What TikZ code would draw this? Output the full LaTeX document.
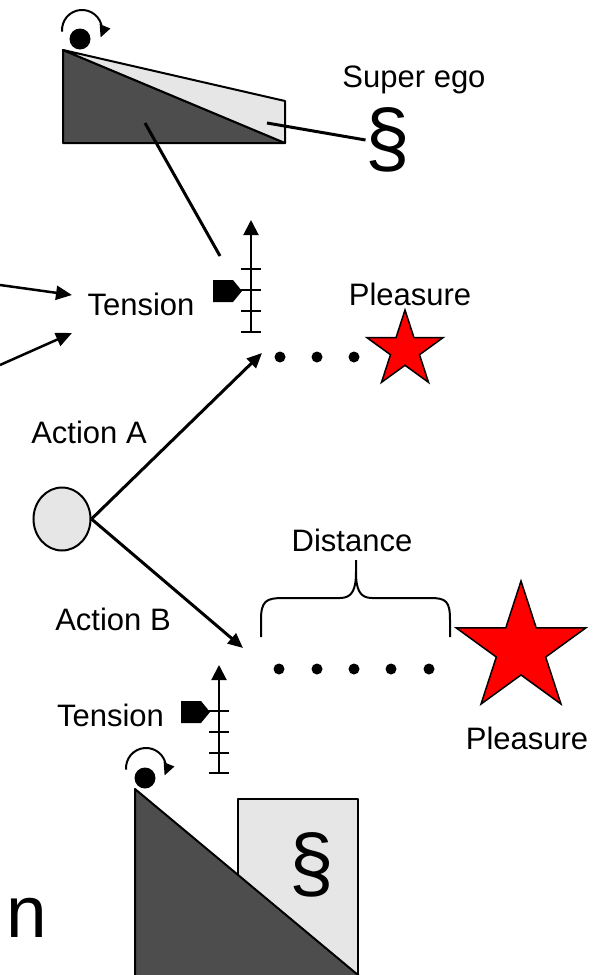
\documentclass[tikz,border=0pt]{standalone}
\usepackage{fontspec}
\setmainfont{Liberation Sans}
\usetikzlibrary{arrows.meta,shapes.geometric,calc}
\definecolor{dk}{HTML}{4D4D4D}
\definecolor{lt}{HTML}{E6E6E6}
\begin{document}
\begin{tikzpicture}[x=1bp,y=-1bp,
  lbl/.style={font=\fontsize{31bp}{36bp}\selectfont, inner sep=0pt, anchor=base},
  sect/.style={font=\fontsize{80bp}{90bp}\selectfont, inner sep=0pt},
  conn/.style={line width=3bp},
  arr/.style={line width=3bp,-{Triangle[length=15bp,width=13bp]}},
  inarr/.style={line width=2.5bp,-{Triangle[length=16bp,width=14bp]}},
  outl/.style={line width=2bp, line join=round},
  dotn/.style={circle, fill=black, minimum size=11bp, inner sep=0pt},
  ball/.style={circle, fill=black, minimum size=21bp, inner sep=0pt},
  rot/.style={line width=2bp,-{Triangle[length=12bp,width=11bp]}},
  pstar/.style={star, star points=5, star point ratio=2.618, fill=red, draw=black, line width=1.5bp, inner sep=0pt},
  scl/.style={line width=2bp},
  sclarr/.style={line width=2bp,-{Triangle[length=15bp,width=15bp]}}
]
\useasboundingbox (0,0) rectangle (605,975);
\clip (0,0) rectangle (605,975);

% ---------- top wedge (super ego) ----------
\path[fill=dk, draw=black, outl] (63,50) -- (63,143) -- (285,143) -- cycle;
\path[fill=lt, draw=black, outl] (63,50) -- (285,101) -- (285,143) -- cycle;
\node[ball] (ballA) at (80,39) {};
\draw[rot] (62.1,31.7) arc[start angle=-185, end angle=22, radius=20];

\node[lbl] (superego) at (414,87) {Super ego};
\node[sect] (secA) at (388,140) {§};
\coordinate (wl) at (267,123);
\draw[conn] (wl) -- (secA.west);
\coordinate (wd) at (145,123);
\coordinate (wdEnd) at (220,256);
\draw[conn] (wd) -- (wdEnd);

% ---------- top tension ----------
\node[lbl] (tenA) at (141,315) {Tension};
\coordinate (inA1) at (0,285);
\coordinate (inA2) at (0,365);
\coordinate (tA1) at (72,295);
\coordinate (tA2) at (72,333);
\draw[inarr] (inA1) -- (tA1);
\draw[inarr] (inA2) -- (tA2);

\coordinate (sA0) at (251,332);
\coordinate (sA1) at (251,220);
\draw[sclarr] (sA0) -- (sA1);
\foreach \yy in {269,290,311,332} \draw[scl] (241,\yy) -- (261,\yy);
\fill (213,280) -- (233,280) -- (242,291) -- (233,302) -- (213,302) -- cycle;

% ---------- top pleasure ----------
\node[lbl] (pleaA) at (410,305) {Pleasure};
\node[dotn] (a1) at (280,357) {};
\node[dotn] (a2) at (317,357) {};
\node[dotn] (a3) at (354,357) {};
\node[pstar, minimum size=80bp] (starA) at (405,350) {};

% ---------- action node ----------
\node[ellipse, draw=black, fill=lt, line width=2bp, minimum width=57bp, minimum height=63bp, inner sep=0pt] (act) at (62,519) {};
\node[lbl] (actA) at (89,443) {Action A};
\node[lbl] (actB) at (113,630) {Action B};
\coordinate (tipA) at (262,353);
\coordinate (tipB) at (243,648);
\draw[arr] (act.east) -- (tipA);
\draw[arr] (act.east) -- (tipB);

% ---------- distance ----------
\node[lbl] (dist) at (352,551) {Distance};
\draw[line width=2bp] (261,637) -- (261,620) .. controls (261,601) and (266,598) .. (283,598) -- (340,598)
  .. controls (352,598) and (356,590) .. (356,572) -- (356,560) -- (356,572)
  .. controls (356,590) and (360,598) .. (372,598) -- (430,598)
  .. controls (446,598) and (450,601) .. (450,620) -- (450,637);
\node[dotn] (b1) at (279,669) {};
\node[dotn] (b2) at (317,669) {};
\node[dotn] (b3) at (354,669) {};
\node[dotn] (b4) at (391,669) {};
\node[dotn] (b5) at (429,669) {};
\node[pstar, minimum size=136bp] (starB) at (521,649) {};
\node[lbl] (pleaB) at (527,749) {Pleasure};

% ---------- bottom tension ----------
\node[lbl] (tenB) at (110.5,726) {Tension};
\coordinate (sB0) at (219,773);
\coordinate (sB1) at (219,665);
\draw[sclarr] (sB0) -- (sB1);
\foreach \yy in {711,732,753,773} \draw[scl] (209,\yy) -- (229,\yy);
\fill (181,701) -- (201,701) -- (210,712) -- (201,723) -- (181,723) -- cycle;

% ---------- bottom wedge ----------
\path[fill=lt, draw=black, outl] (238,799) rectangle (358,980);
\node[sect] (secB) at (312,865) {§};
\path[fill=dk, draw=black, outl] (135,789) -- (135,980) -- (364,980) -- cycle;
\node[ball] (ballB) at (145,778) {};
\draw[rot] (126.1,769.7) arc[start angle=-185, end angle=22, radius=20];

% ---------- cut-off text fragment ----------
\node[anchor=base west, font=\fontsize{73bp}{80bp}\selectfont, inner sep=0pt] (frag) at (6,937) {n};
\end{tikzpicture}
\end{document}
